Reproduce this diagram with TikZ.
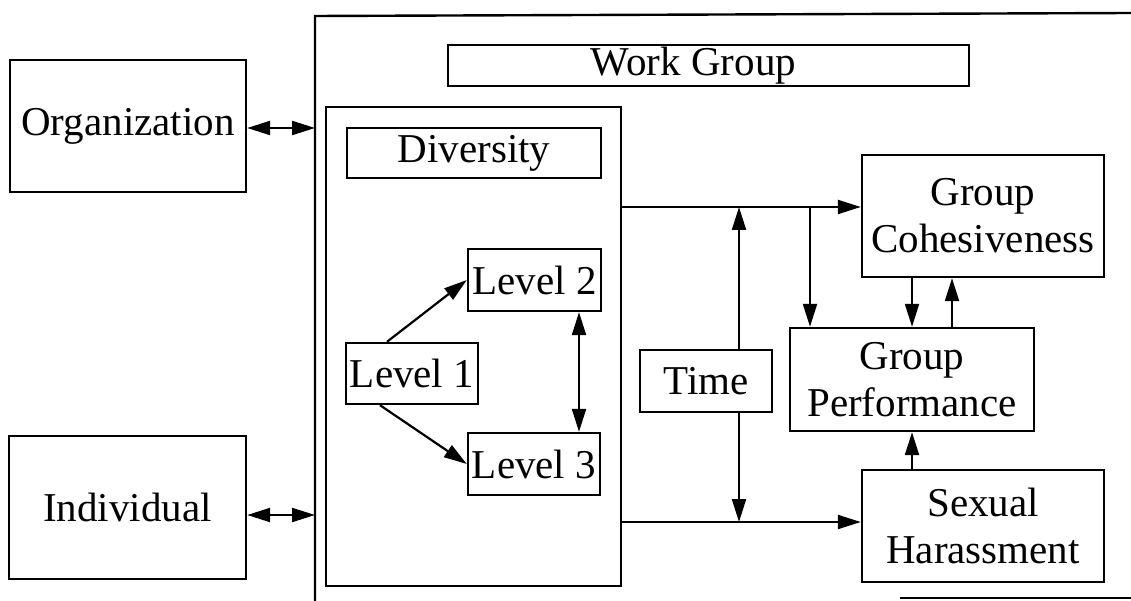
\documentclass[tikz,border=0pt]{standalone}
\usepackage{fontspec}
\setmainfont{Liberation Serif}
\usetikzlibrary{arrows.meta}
\begin{document}
\begin{tikzpicture}[x=1pt,y=-1pt,
  every node/.style={font=\fontsize{41}{47}\selectfont},
  box/.style={draw, line width=2.4pt, align=center, inner sep=0pt, anchor=center},
  conn/.style={line width=2.2pt, -{Triangle[length=23pt,width=14pt]}},
  biconn/.style={line width=2.2pt, {Triangle[length=23pt,width=14pt]}-{Triangle[length=23pt,width=14pt]}}]
\useasboundingbox (0,0) rectangle (1131,601);
% outer work group frame (partially visible)
\draw[line width=2.4pt] (315,601) -- (315,16) -- (1131,13);
\draw[line width=2.4pt] (900,598) -- (1131,598);
\coordinate (wgl) at (315,128);
\coordinate (wgl2) at (315,515);
% nodes
\node[box, minimum width=236pt, minimum height=132pt] (org) at (128,126) {Organization};
\node[box, minimum width=237pt, minimum height=143pt] (ind) at (127.5,507.5) {Individual};
\node[box, minimum width=521pt, minimum height=41pt] (wg) at (708.5,65.5) {\hspace*{-30pt}Work Group};
\node[box, minimum width=295pt, minimum height=479pt] (div) at (473.5,346.5) {};
\node[box, minimum width=254pt, minimum height=50pt] (divl) at (474,153) {Diversity};
\node[box, minimum width=132pt, minimum height=61pt] (l1) at (412,373.5) {Level 1};
\node[box, minimum width=133pt, minimum height=62pt] (l2) at (534.5,280) {Level 2};
\node[box, minimum width=132pt, minimum height=62pt] (l3) at (534,464) {Level 3};
\node[box, minimum width=132pt, minimum height=62pt] (time) at (706,381) {Time};
\node[box, minimum width=242pt, minimum height=122pt] (gc) at (983,216) {Group\\Cohesiveness};
\node[box, minimum width=244pt, minimum height=103pt] (gp) at (912,379.5) {Group\\Performance};
\node[box, minimum width=242pt, minimum height=112pt] (sh) at (983,526) {Sexual\\Harassment};
% helper coordinates
\coordinate (tj) at (739,207);
\coordinate (bj) at (739,522);
\coordinate (dj) at (810,207);
% connectors
\draw[biconn] (org.east |- wgl) -- (wgl);
\draw[biconn] (ind.east |- wgl2) -- (wgl2);
\draw[conn] (l1.north -| 387,0) -- (l2.west);
\draw[conn] (l1.south -| 380,0) -- (l3.west);
\draw[biconn] (l2.south -| 579,0) -- (l3.north -| 579,0);
\draw[conn] (div.east |- tj) -- (gc.west |- tj);
\draw[conn] (div.east |- bj) -- (sh.west |- bj);
\draw[conn] (time.north -| tj) -- (tj);
\draw[conn] (time.south -| bj) -- (bj);
\draw[conn] (dj) -- (gp.north -| dj);
\draw[conn] (gc.south -| 912,0) -- (gp.north -| 912,0);
\draw[conn] (gp.north -| 952,0) -- (gc.south -| 952,0);
\draw[conn] (sh.north -| 912,0) -- (gp.south -| 912,0);
\end{tikzpicture}
\end{document}
